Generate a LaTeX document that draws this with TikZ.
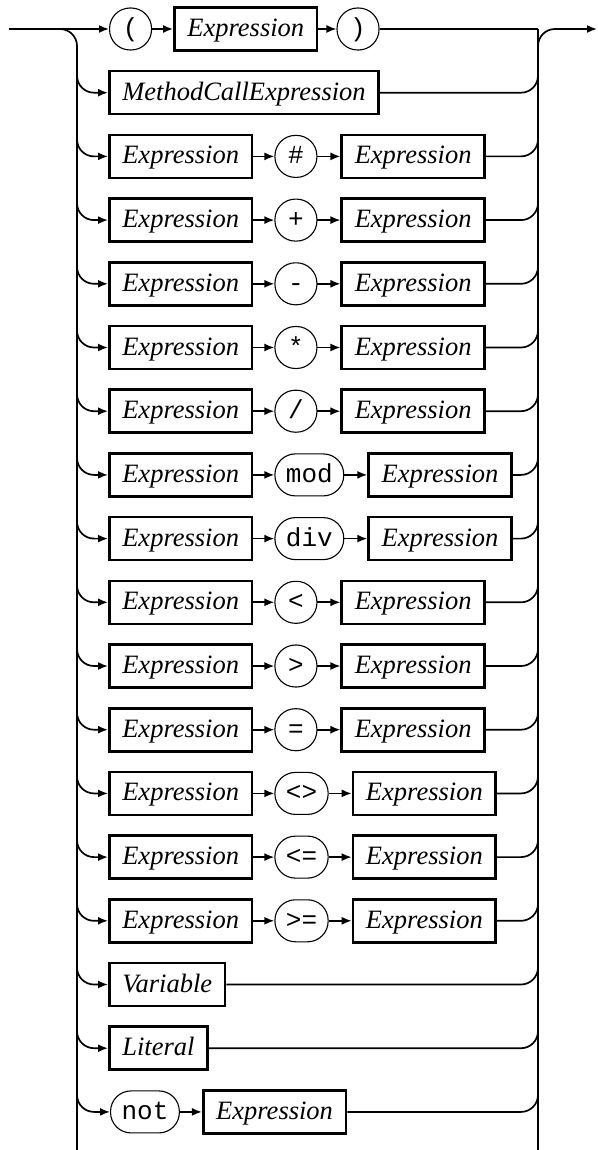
\documentclass[tikz,border=0pt]{standalone}
\usepackage{fontspec}
\setmainfont{Liberation Serif}
\setmonofont{Liberation Mono}
\usetikzlibrary{arrows.meta,positioning,calc}

\begin{document}
\begin{tikzpicture}[x=1pt,y=-1pt,
  nt/.style={draw, line width=2.6pt, minimum height=43pt, inner xsep=13pt, inner ysep=0pt,
             text height=20pt, text depth=5pt, font=\fontsize{26.5pt}{30pt}\selectfont\itshape},
  tm/.style={draw, line width=1.1pt, minimum height=42pt, minimum width=42pt,
             rounded corners=20.5pt, inner xsep=11pt, inner ysep=0pt,
             text height=20pt, text depth=5pt, font=\fontsize{26pt}{30pt}\selectfont\ttfamily},
  conn/.style={line width=1.7pt},
  arr/.style={conn, -{Latex[length=10pt,width=8pt]}},
  curvy/.style={rounded corners=17pt}]

\useasboundingbox (0,0) rectangle (597,1150);

% rails: entry, exit and the two vertical buses
\coordinate (start) at (9,29);
\coordinate (end)   at (597,29);
\coordinate (L)     at (77,0);
\coordinate (R)     at (538,0);
\coordinate (Lbot)  at (77,1150);
\coordinate (Rbot)  at (538,1150);

% first alternative: ( Expression )
\node[tm, anchor=west] (lp) at (109,29) {(};
\node[nt, right=21pt of lp] (e0) {Expression};
\node[tm, right=18pt of e0] (rp) {)};
\draw[arr] (start) -- (lp);
\draw[arr] (lp) -- (e0);
\draw[arr] (e0) -- (rp);
\draw[conn] (rp) -- (R |- rp);
\draw[conn, curvy] (start) -| (Lbot);
\draw[arr, curvy] (Rbot) |- (end);

% MethodCallExpression
\node[nt, anchor=west] (mc) at (108,92.7) {MethodCallExpression};
\draw[arr, curvy] ($(L |- mc.west)+(0,-30)$) |- (mc.west);
\draw[conn, curvy] (mc.east) -| ($(R |- mc.east)+(0,-30)$);

% binary operators
\foreach \op [count=\k from 2] in {\#, +, -, *, /, mod, div, <, >, =, <>, <=, >=} {
  \pgfmathsetmacro\yy{29+63.7*\k}
  \node[nt, anchor=west] (l\k) at (108,\yy) {Expression};
  \node[tm, right=21pt of l\k] (o\k) {\op};
  \node[nt, right=23pt of o\k] (r\k) {Expression};
  \draw[arr] (l\k) -- (o\k);
  \draw[arr] (o\k) -- (r\k);
  \draw[arr, curvy] ($(L |- l\k.west)+(0,-30)$) |- (l\k.west);
  \draw[conn, curvy] (r\k.east) -| ($(R |- r\k.east)+(0,-30)$);
}

% Variable
\node[nt, anchor=west] (var) at (108,984.5) {Variable};
\draw[arr, curvy] ($(L |- var.west)+(0,-30)$) |- (var.west);
\draw[conn, curvy] (var.east) -| ($(R |- var.east)+(0,-30)$);

% Literal
\node[nt, anchor=west] (lit) at (108,1048.2) {Literal};
\draw[arr, curvy] ($(L |- lit.west)+(0,-30)$) |- (lit.west);
\draw[conn, curvy] (lit.east) -| ($(R |- lit.east)+(0,-30)$);

% not Expression
\node[tm, anchor=west] (nt) at (110,1111.9) {not};
\node[nt, right=22pt of nt] (ne) {Expression};
\draw[arr] (nt) -- (ne);
\draw[arr, curvy] ($(L |- nt.west)+(0,-30)$) |- (nt.west);
\draw[conn, curvy] (ne.east) -| ($(R |- ne.east)+(0,-30)$);

% buses continue below
\draw[conn] (R |- rp) -- (Rbot);
\end{tikzpicture}
\end{document}
